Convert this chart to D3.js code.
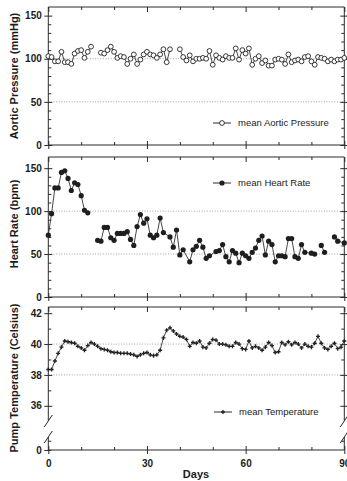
<!DOCTYPE html>
<html><head><meta charset="utf-8">
<script src="https://cdn.jsdelivr.net/npm/d3@7/dist/d3.min.js"></script>
<style>
body{margin:0;background:#fff}
svg text{font-family:"Liberation Sans",Arial,Helvetica,sans-serif;fill:#1b1b1b}
</style></head><body><script>
// mean aortic pressure, one value per day (index = day), null = no measurement
var aortic = [103,102,97,97,108,96,96,94,106,109,110,101,108,114,null,null,107,106,110,114,108,101,103,102,94,100,105,94,99,105,108,105,104,101,105,111,96,111,null,null,111,102,98,104,97,100,100,101,100,109,93,104,101,99,103,101,101,112,99,110,106,112,93,100,103,95,98,92,92,99,100,99,94,105,96,98,99,97,102,103,97,93,102,101,100,97,99,97,99,99,101];
// mean heart rate: measured days and values (null value = break in the line)
var hrDays = [0,1,2,3,4,5,6,7,8,9,10,11,12,13,15,16,17,18,19,20,21,22,23,24,25,26,27,28,29,30,31,32,33,34,35,37,38,39,40,41,43,44,45,46,47,48,49,51,52,53,54,55,56,57,58,59,60,61,62,63,64,65,66,67,68,69,70,71,72,73,74,75,76,77,78,80,81,82,83,84,85,87,88,90];
var hrVals = [72,97,127,127,145,147,138,124,133,131,118,101,98,null,66,65,81,81,69,66,74,74,74,76,67,60,82,96,86,91,72,69,72,92,75,70,58,78,49,55,41,55,59,66,58,45,48,53,54,61,47,41,54,51,40,51,48,45,52,57,66,71,49,65,61,41,48,48,47,68,68,47,45,61,52,51,50,null,60,52,null,70,65,63];
// mean pump temperature, one value per day
var temp = [38.35,38.35,38.9,39.4,39.8,40.2,40.15,40.1,40.05,39.85,39.75,39.6,39.9,40.1,40.0,39.85,39.7,39.65,39.6,39.5,39.45,39.45,39.4,39.4,39.4,39.35,39.3,39.2,39.3,39.4,39.45,39.3,39.25,39.3,39.6,40.4,40.9,41.05,40.85,40.65,40.5,40.45,40.3,39.85,40.1,40.05,40.2,39.8,39.75,40.05,40.3,40.25,40.0,40.0,39.95,39.85,39.85,40.1,40.0,39.7,39.65,40.2,39.75,39.85,39.75,39.6,39.8,40.1,39.9,39.45,39.5,40.1,39.95,40.15,39.95,40.1,40.0,39.75,40.0,39.85,39.8,40.05,40.5,40.05,39.75,39.65,39.85,40.05,39.7,39.8,40.2];

var xMajor = [0,30,60,90], xMinor = [10,20,40,50,70,80];
var pMajor = [0,50,100,150], pMinor = [10,20,30,40,60,70,80,90,110,120,130,140];
var tMajor = [36,38,40,42], tMinor = [37,39,41];

var W = 347, H = 481, x0 = 48.3, x1 = 344.3, ink = '#2a2a2a';
var svg = d3.select('body').append('svg').attr('width',W).attr('height',H);
var x = d3.scaleLinear().domain([0,90]).range([x0,x1]);

function line(g,a,b,c,d){ g.append('line').attr('x1',a).attr('y1',b).attr('x2',c).attr('y2',d).attr('stroke',ink).attr('stroke-width',1); }

function clean(g){ g.select('.domain').remove(); g.selectAll('line').attr('stroke',ink); }

function panel(y,top,bottom,major,minor,grid,title,titleY,labels){
	var g = svg.append('g');
	// dotted reference lines
	grid.forEach(function(v){
		g.append('line').attr('x1',x0).attr('x2',x1).attr('y1',y(v)).attr('y2',y(v))
			.attr('stroke','#8a8a8a').attr('stroke-width',0.8).attr('stroke-dasharray','1,1.6');
	});
	// left axis: outward major ticks with labels, inward major+minor ticks
	g.append('g').attr('transform','translate('+x0+',0)')
		.call(d3.axisLeft(y).tickValues(major).tickSize(4).tickPadding(2.5)).call(clean)
		.selectAll('text').attr('font-size',10).attr('font-weight','bold').attr('font-family',null).attr('fill','#1b1b1b');
	g.append('g').attr('transform','translate('+x0+',0)').call(d3.axisRight(y).tickValues(major).tickSize(4).tickFormat('')).call(clean);
	g.append('g').attr('transform','translate('+x0+',0)').call(d3.axisRight(y).tickValues(minor).tickSize(3).tickFormat('')).call(clean);
	// right axis mirror
	g.append('g').attr('transform','translate('+x1+',0)').call(d3.axisRight(y).tickValues(major).tickSize(3).tickFormat('')).call(clean);
	g.append('g').attr('transform','translate('+x1+',0)').call(d3.axisLeft(y).tickValues(major).tickSize(4).tickFormat('')).call(clean);
	g.append('g').attr('transform','translate('+x1+',0)').call(d3.axisLeft(y).tickValues(minor).tickSize(3).tickFormat('')).call(clean);
	// top frame ticks
	g.append('g').attr('transform','translate(0,'+top+')').call(d3.axisBottom(x).tickValues(xMajor).tickSize(5).tickFormat('')).call(clean);
	g.append('g').attr('transform','translate(0,'+top+')').call(d3.axisBottom(x).tickValues(xMinor).tickSize(3).tickFormat('')).call(clean);
	// bottom ticks
	g.append('g').attr('transform','translate(0,'+bottom+')').call(d3.axisTop(x).tickValues(xMajor).tickSize(4).tickFormat('')).call(clean);
	g.append('g').attr('transform','translate(0,'+bottom+')').call(d3.axisTop(x).tickValues(xMinor).tickSize(3).tickFormat('')).call(clean);
	var bx = g.append('g').attr('transform','translate(0,'+bottom+')')
		.call(d3.axisBottom(x).tickValues(xMajor).tickSize(4).tickPadding(6).tickFormat(labels ? null : '')).call(clean);
	bx.selectAll('text').attr('font-size',10).attr('font-weight','bold').attr('font-family',null).attr('fill','#1b1b1b');
	// frame
	line(g,x0,top,x1,top); line(g,x0,bottom,x1,bottom);
	g.append('text').attr('transform','translate(18,'+titleY+') rotate(-90)').attr('text-anchor','middle')
		.attr('font-size',11).attr('font-weight','bold').text(title);
	return g;
}

function legend(g,lx,ly,label,mark){
	line(g,lx,ly,lx+18,ly);
	mark(g,lx+9,ly);
	g.append('text').attr('x',lx+25).attr('y',ly).attr('dy','0.35em').attr('font-size',9.5).text(label);
}

// ---- panel 1: aortic pressure
var y1 = d3.scaleLinear().domain([0,160]).range([145,7]);
var g1 = panel(y1,7,145,pMajor,pMinor,[50,100],'Aortic Pressure (mmHg)',76,false);
line(g1,x0,7,x0,145); line(g1,x1,7,x1,145);
var l1 = d3.line().defined(function(d){return d!=null;}).x(function(d,i){return x(i);}).y(function(d){return y1(d);});
g1.append('path').attr('d',l1(aortic)).attr('fill','none').attr('stroke','#333').attr('stroke-width',0.9);
g1.selectAll('circle.p').data(aortic.map(function(v,i){return [i,v];}).filter(function(d){return d[1]!=null;}))
	.enter().append('circle').attr('class','p').attr('cx',function(d){return x(d[0]);}).attr('cy',function(d){return y1(d[1]);})
	.attr('r',2.4).attr('fill','#fff').attr('stroke','#222').attr('stroke-width',0.9);
legend(g1,213,123,'mean Aortic Pressure',function(g,cx,cy){g.append('circle').attr('cx',cx).attr('cy',cy).attr('r',2.4).attr('fill','#fff').attr('stroke','#222').attr('stroke-width',0.9);});

// ---- panel 2: heart rate
var y2 = d3.scaleLinear().domain([0,163]).range([297,157]);
var g2 = panel(y2,157,297,pMajor,pMinor,[50,100],'Heart Rate (bpm)',224,false);
line(g2,x0,157,x0,297); line(g2,x1,157,x1,297);
var hr = hrDays.map(function(d,i){return [d,hrVals[i]];});
var l2 = d3.line().defined(function(d){return d[1]!=null;}).x(function(d){return x(d[0]);}).y(function(d){return y2(d[1]);});
g2.append('path').attr('d',l2(hr)).attr('fill','none').attr('stroke','#333').attr('stroke-width',0.9);
g2.selectAll('circle.p').data(hr.filter(function(d){return d[1]!=null;}))
	.enter().append('circle').attr('class','p').attr('cx',function(d){return x(d[0]);}).attr('cy',function(d){return y2(d[1]);})
	.attr('r',2.6).attr('fill','#1e1e1e');
legend(g2,213,183,'mean Heart Rate',function(g,cx,cy){g.append('circle').attr('cx',cx).attr('cy',cy).attr('r',2.6).attr('fill','#1e1e1e');});

// ---- panel 3: pump temperature, broken axis
var y3 = d3.scaleLinear().domain([34.95,42.4]).range([422,307]);
var y3low = d3.scaleLinear().domain([0,1]).range([450,434.6]);
var g3 = panel(y3,307,450,tMajor,tMinor,[38,40],'Pump Temperature (Celsius)',378,true);
// low segment with the 0 tick
g3.append('g').attr('transform','translate('+x0+',0)')
	.call(d3.axisLeft(y3low).tickValues([0]).tickFormat(d3.format('d')).tickSize(4).tickPadding(2.5)).call(clean)
	.selectAll('text').attr('font-size',10).attr('font-weight','bold').attr('font-family',null).attr('fill','#1b1b1b');
g3.append('g').attr('transform','translate('+x0+',0)').call(d3.axisRight(y3low).tickValues([0,0.6]).tickSize(3).tickFormat('')).call(clean);
g3.append('g').attr('transform','translate('+x1+',0)').call(d3.axisLeft(y3low).tickValues([0.6]).tickSize(3).tickFormat('')).call(clean);
[x0,x1].forEach(function(ax){
	line(g3,ax,307,ax,421); line(g3,ax,437,ax,450);
	line(g3,ax-4,427,ax+4,415); line(g3,ax-4,443,ax+4,431);
});
var l3 = d3.line().x(function(d,i){return x(i);}).y(function(d){return y3(d);});
g3.append('path').attr('d',l3(temp)).attr('fill','none').attr('stroke','#333').attr('stroke-width',0.9);
var cross = d3.symbol().type(d3.symbolCross).size(9);
g3.selectAll('path.m').data(temp).enter().append('path').attr('class','m').attr('d',cross)
	.attr('transform',function(d,i){return 'translate('+x(i)+','+y3(d)+')';}).attr('fill','#222');
legend(g3,214,412,'mean Temperature',function(g,cx,cy){g.append('path').attr('d',cross).attr('transform','translate('+cx+','+cy+')').attr('fill','#222');});

svg.append('text').attr('x',196).attr('y',478).attr('text-anchor','middle').attr('font-size',11).attr('font-weight','bold').text('Days');
</script></body></html>
